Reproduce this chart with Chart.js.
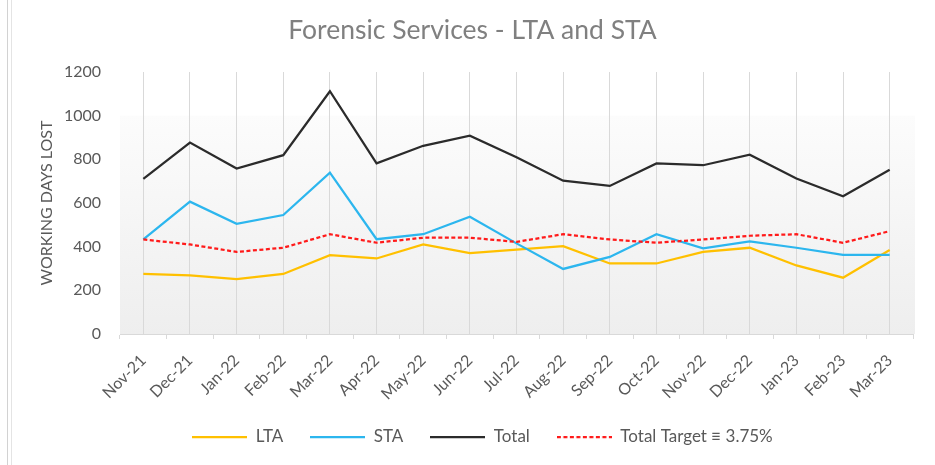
<!DOCTYPE html>
<html><head><meta charset="utf-8">
<script src="https://cdn.jsdelivr.net/npm/chart.js@4.4.1/dist/chart.umd.min.js"></script>
<style>
html,body{margin:0;padding:0;background:#fff;}
#wrap{position:relative;width:935px;height:465px;overflow:hidden;}
canvas{position:absolute;left:0;top:0;}
.edge{position:absolute;top:0;height:465px;width:1px;}
</style></head><body>
<div id="wrap"><canvas id="c" width="935" height="465"></canvas>
<div class="edge" style="left:7px;background:#d2d2d2"></div>
<div class="edge" style="left:11px;background:#e4e4e4"></div>
</div>
<script>
const categories = ['Nov-21','Dec-21','Jan-22','Feb-22','Mar-22','Apr-22','May-22','Jun-22','Jul-22','Aug-22','Sep-22','Oct-22','Nov-22','Dec-22','Jan-23','Feb-23','Mar-23'];
const ltaValues    = [275, 268, 251, 275, 361, 346, 410, 370, 387, 402, 323, 323, 376, 395, 314, 258, 385];
const staValues    = [433, 606, 505, 545, 739, 434, 457, 537, 415, 298, 353, 457, 392, 424, 395, 362, 362];
const totalValues  = [710, 877, 758, 819, 1112, 782, 862, 908, 810, 702, 678, 781, 773, 821, 712, 631, 752];
const targetValues = [433, 410, 376, 395, 457, 418, 441, 441, 422, 457, 433, 418, 433, 450, 457, 418, 471];
const yMin = 0, yMax = 1200, yStep = 200;
const seriesNames = ['LTA', 'STA', 'Total', 'Total Target \u2261 3.75%'];
const chartTitle = 'Forensic Services - LTA and STA';
const yTitle = 'WORKING DAYS LOST';

const FONT = 'Lato';
const TXT = '#595959';
const LEGEND_W = 55;

const plotBg = {
  id: 'plotBg',
  beforeDraw(chart) {
    const {ctx, chartArea: a, scales: {y}} = chart;
    const t = y.getPixelForValue(1000);
    const g = ctx.createLinearGradient(0, t, 0, a.bottom);
    g.addColorStop(0, '#fcfcfc');
    g.addColorStop(1, '#eeeeee');
    ctx.save();
    ctx.fillStyle = g;
    ctx.fillRect(a.left, t, a.right - a.left + 2, a.bottom - t);
    ctx.restore();
  }
};
const legendShift = {
  id: 'legendShift',
  afterLayout(chart) {
    const lg = chart.legend; const dx = 10, dy = -9.5;
    lg.left += dx; lg.right += dx; lg.top += dy; lg.bottom += dy;
  }
};

function legendIcon(color, dash, width) {
  const cv = document.createElement('canvas');
  cv.width = LEGEND_W; cv.height = 4;
  const c = cv.getContext('2d');
  c.strokeStyle = color; c.lineWidth = width; c.setLineDash(dash);
  c.beginPath(); c.moveTo(0, 2); c.lineTo(LEGEND_W, 2); c.stroke();
  return cv;
}

function ds(label, data, color, dash, order) {
  return {label, data, borderColor: color, backgroundColor: color, borderWidth: 2.25,
    borderDash: dash, pointRadius: 0, pointHoverRadius: 0, tension: 0, fill: false,
    pointStyle: 'line', order};
}

new Chart(document.getElementById('c'), {
  type: 'line',
  data: {
    labels: categories,
    datasets: [
      ds(seriesNames[0], ltaValues, '#FFC000', [], 4),
      ds(seriesNames[1], staValues, '#2CB6EE', [], 3),
      ds(seriesNames[2], totalValues, '#2b2b2b', [], 2),
      ds(seriesNames[3], targetValues, '#FF1A1A', [4, 2.5], 1)
    ]
  },
  options: {
    responsive: false, animation: false, devicePixelRatio: 1,
    layout: {padding: {left: 32, right: 22, top: 0, bottom: 0}},
    plugins: {
      title: {display: true, text: chartTitle, color: '#808080',
        font: {family: FONT, size: 26.5, weight: 'normal'}, padding: {top: 14.1, bottom: 26.1}},
      legend: {position: 'bottom',
        labels: {usePointStyle: true, pointStyleWidth: LEGEND_W, padding: 27, color: TXT,
          font: {family: FONT, size: 17},
          sort: (a, b) => a.datasetIndex - b.datasetIndex,
          generateLabels(chart) {
            const items = Chart.defaults.plugins.legend.labels.generateLabels(chart);
            items.forEach(it => {
              const d = chart.data.datasets[it.datasetIndex];
              it.pointStyle = legendIcon(d.borderColor, d.borderDash || [], d.borderWidth);
            });
            return items;
          }}},
      tooltip: {enabled: false}
    },
    scales: {
      x: {type: 'category', position: 'bottom', offset: true,
        grid: {offset: true, drawOnChartArea: false, drawTicks: true, tickLength: 5, color: '#d9d9d9'},
        border: {display: true, color: '#d9d9d9', width: 1},
        ticks: {autoSkip: false, maxRotation: 45, minRotation: 45, padding: 12, color: TXT,
          font: {family: FONT, size: 16}},
        afterFit(s) { s.height = 77; }
      },
      xGrid: {type: 'category', labels: categories, position: 'bottom', offset: true,
        grid: {offset: false, drawTicks: false, color: '#d9d9d9', lineWidth: 1},
        border: {display: false}, ticks: {display: false},
        afterFit(s) { s.height = 0; }
      },
      y: {min: yMin, max: yMax,
        ticks: {stepSize: yStep, padding: 19, color: TXT, font: {family: FONT, size: 16},
          callback: (v) => String(v)},
        grid: {display: false, drawTicks: false},
        border: {display: false},
        title: {display: true, text: yTitle, color: TXT, font: {family: FONT, size: 16},
          padding: {top: 5.5, bottom: 0}},
        afterFit(s) { s.width = 88; }
      }
    }
  },
  plugins: [plotBg, legendShift]
});
</script>
</body></html>
